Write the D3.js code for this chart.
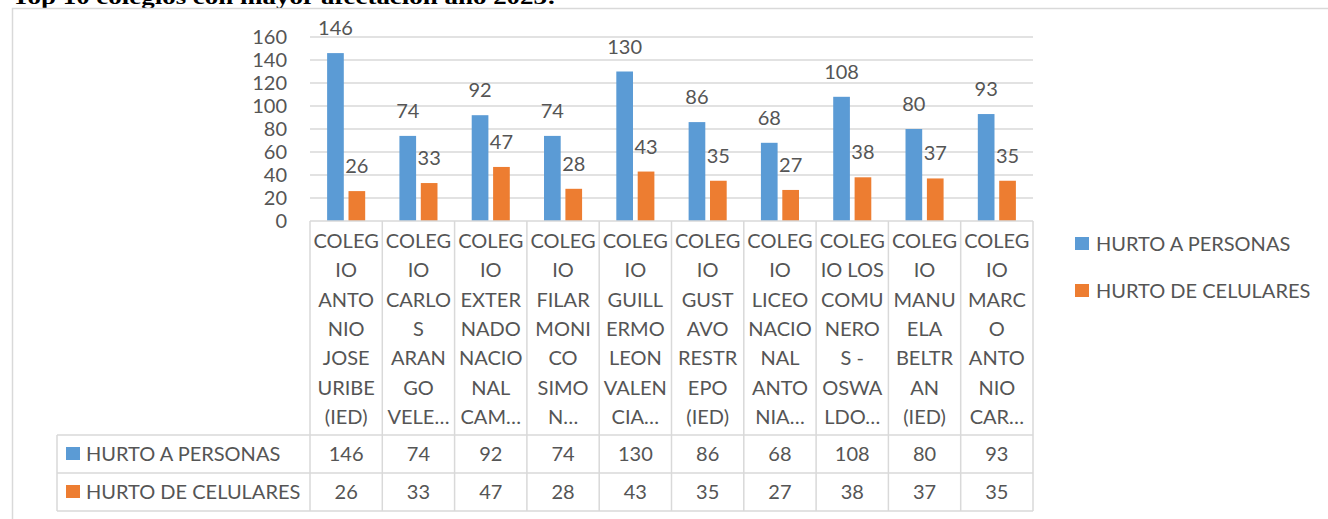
<!DOCTYPE html>
<html>
<head>
<meta charset="utf-8">
<script src="https://cdn.jsdelivr.net/npm/d3@7"></script>
<style>
  body { margin: 0; background: #fff; }
  svg { display: block; font-family: Lato, "Open Sans", sans-serif; }
  .lbl { fill: #555; font-size: 20px; }
</style>
</head>
<body>
<svg id="chart" width="1328" height="519"></svg>
<script>
"use strict";

// Wrapped category names, as the cells show them ("|" = line break)
const categories = [
  "COLEG|IO|ANTO|NIO|JOSE|URIBE|(IED)",
  "COLEG|IO|CARLO|S|ARAN|GO|VELE…",
  "COLEG|IO|EXTER|NADO|NACIO|NAL|CAM…",
  "COLEG|IO|FILAR|MONI|CO|SIMO|N…",
  "COLEG|IO|GUILL|ERMO|LEON|VALEN|CIA…",
  "COLEG|IO|GUST|AVO|RESTR|EPO|(IED)",
  "COLEG|IO|LICEO|NACIO|NAL|ANTO|NIA…",
  "COLEG|IO LOS|COMU|NERO|S -|OSWA|LDO…",
  "COLEG|IO|MANU|ELA|BELTR|AN|(IED)",
  "COLEG|IO|MARC|O|ANTO|NIO|CAR…"
];
const seriesNames = ["HURTO A PERSONAS", "HURTO DE CELULARES"];
const hurtoPersonas = [146, 74, 92, 74, 130, 86, 68, 108, 80, 93];
const hurtoCelulares = [26, 33, 47, 28, 43, 35, 27, 38, 37, 35];
const yTicks = [0, 20, 40, 60, 80, 100, 120, 140, 160];

const colors = ["#5B9BD5", "#ED7D31"];
const lineColor = "#D9D9D9";

const svg = d3.select("#chart");
const values = [hurtoPersonas, hurtoCelulares];

const x = d3.scaleBand()
  .domain(d3.range(categories.length))
  .range([310, 1033]);

const xSub = d3.scaleBand()
  .domain(d3.range(seriesNames.length))
  .range([0, x.bandwidth()])
  .paddingInner(0.22)
  .paddingOuter(0.8);

const y = d3.scaleLinear()
  .domain([0, 160])
  .range([221, 37]);

// Title (cut by the top of the picture, as in the source)
svg.append("text")
  .attr("x", 12)
  .attr("y", 4)
  .attr("textLength", 544)
  .attr("lengthAdjust", "spacingAndGlyphs")
  .style("font-family", "'Liberation Serif', 'Times New Roman', serif")
  .style("font-weight", "bold")
  .style("font-size", "21px")
  .style("fill", "#000")
  .text("Top 10 colegios con mayor afectación año 2023:");

// Chart area frame
svg.append("rect")
  .attr("x", 12.5).attr("y", 8.5)
  .attr("width", 1400).attr("height", 600)
  .attr("fill", "none")
  .attr("stroke", lineColor)
  .attr("stroke-width", 1.5);

/**
 * Draws gridlines and the y axis labels.
 */
function drawYAxis() {
  svg.append("g")
    .selectAll("line")
    .data(yTicks.slice(1))
    .join("line")
    .attr("x1", 310).attr("x2", 1033)
    .attr("y1", d => y(d)).attr("y2", d => y(d))
    .attr("stroke", lineColor)
    .attr("stroke-width", 1.5);

  svg.append("g")
    .selectAll("text")
    .data(yTicks)
    .join("text")
    .attr("class", "lbl")
    .attr("x", 287)
    .attr("y", d => y(d) + 7)
    .attr("text-anchor", "end")
    .text(d => d);
}

/**
 * Draws the bars and their value labels.
 */
function drawBars() {
  values.forEach((serie, s) => {
    let g = svg.append("g");
    g.selectAll("rect")
      .data(serie)
      .join("rect")
      .attr("x", (d, i) => x(i) + xSub(s))
      .attr("y", d => y(d))
      .attr("width", xSub.bandwidth())
      .attr("height", d => y(0) - y(d))
      .attr("fill", colors[s]);

    g.selectAll("text")
      .data(serie)
      .join("text")
      .attr("class", "lbl")
      .attr("x", (d, i) => x(i) + xSub(s) + xSub.bandwidth() / 2)
      .attr("y", d => y(d) - 18)
      .attr("text-anchor", "middle")
      .text(d => d);
  });
}

/**
 * Draws the category cells and the data table below the plot.
 */
function drawTable() {
  const top = 221, rowTop = 435, rowH = 38, bottom = rowTop + 2 * rowH;
  let g = svg.append("g")
    .attr("stroke", lineColor)
    .attr("stroke-width", 1.5);

  // horizontal lines
  g.append("line").attr("x1", 310).attr("x2", 1033).attr("y1", top).attr("y2", top);
  [rowTop, rowTop + rowH, bottom].forEach(yy => {
    g.append("line").attr("x1", 57).attr("x2", 1033).attr("y1", yy).attr("y2", yy);
  });
  // vertical lines
  g.append("line").attr("x1", 57).attr("x2", 57).attr("y1", rowTop).attr("y2", bottom);
  g.selectAll("line.v")
    .data(d3.range(categories.length + 1))
    .join("line")
    .attr("class", "v")
    .attr("x1", i => 310 + i * x.step()).attr("x2", i => 310 + i * x.step())
    .attr("y1", top).attr("y2", bottom);

  // category names
  categories.forEach((c, i) => {
    svg.append("g")
      .selectAll("text")
      .data(c.split("|"))
      .join("text")
      .attr("class", "lbl")
      .attr("x", x(i) + x.bandwidth() / 2)
      .attr("y", (d, k) => 248 + k * 29.3)
      .attr("text-anchor", "middle")
      .text(d => d);
  });

  // series rows
  seriesNames.forEach((name, s) => {
    let cy = rowTop + s * rowH + rowH / 2;
    svg.append("rect")
      .attr("x", 66).attr("y", cy - 7)
      .attr("width", 14).attr("height", 13)
      .attr("fill", colors[s]);
    svg.append("text")
      .attr("class", "lbl")
      .attr("x", 86).attr("y", cy + 7)
      .text(name);
    svg.append("g")
      .selectAll("text")
      .data(values[s])
      .join("text")
      .attr("class", "lbl")
      .attr("x", (d, i) => x(i) + x.bandwidth() / 2)
      .attr("y", cy + 7)
      .attr("text-anchor", "middle")
      .text(d => d);
  });
}

/**
 * Draws the legend on the right.
 */
function drawLegend() {
  let items = svg.append("g")
    .selectAll("g")
    .data(seriesNames)
    .join("g")
    .attr("transform", (d, i) => "translate(1075," + (237 + i * 47) + ")");
  items.append("rect")
    .attr("width", 14).attr("height", 13)
    .attr("fill", (d, i) => colors[i]);
  items.append("text")
    .attr("class", "lbl")
    .attr("x", 21).attr("y", 13.5)
    .text(d => d);
}

drawYAxis();
drawBars();
drawTable();
drawLegend();
</script>
</body>
</html>
